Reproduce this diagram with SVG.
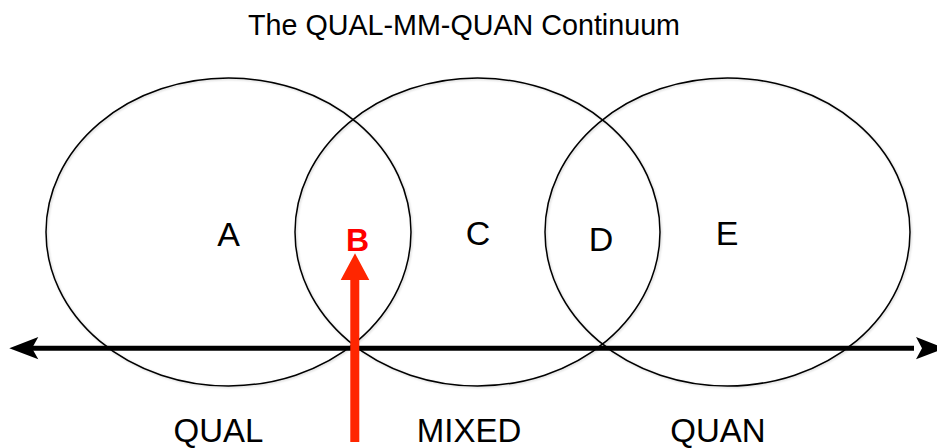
<svg xmlns="http://www.w3.org/2000/svg" width="937" height="448" viewBox="0 0 937 448">
  <style>
    .ell { fill: none; stroke: #000; stroke-width: 1.5; filter: url(#sh); }
    .lbl { font-family: "Liberation Sans", Arial, Helvetica, sans-serif; font-size: 34px; fill: #000; text-anchor: middle; }
    .axl { font-family: "Liberation Sans", Arial, Helvetica, sans-serif; font-size: 33px; fill: #000; text-anchor: middle; }
    .title { font-family: "Liberation Sans", Arial, Helvetica, sans-serif; font-size: 28.7px; fill: #000; text-anchor: middle; }
  </style>
  <defs>
    <filter id="sh" x="-10%" y="-10%" width="120%" height="120%">
      <feDropShadow dx="1" dy="1" stdDeviation="1" flood-color="#000" flood-opacity="0.18"/>
    </filter>
  </defs>
  <rect width="937" height="448" fill="#fff"/>
  <text class="title" x="464" y="35">The QUAL-MM-QUAN Continuum</text>

  <g id="circle-qual">
    <ellipse class="ell" cx="228.5" cy="232" rx="182.5" ry="154"/>
    <text class="lbl" x="228.5" y="246">A</text>
  </g>
  <g id="circle-mixed">
    <ellipse class="ell" cx="477.5" cy="232" rx="182.5" ry="154"/>
    <text class="lbl" x="478" y="245">C</text>
  </g>
  <g id="circle-quan">
    <ellipse class="ell" cx="727.5" cy="232" rx="182.5" ry="154"/>
    <text class="lbl" x="727" y="245">E</text>
  </g>
  <g id="overlap-b">
    <text x="357.5" y="251" font-family="Liberation Sans, Arial, sans-serif" font-size="32" font-weight="bold" fill="#FF0000" text-anchor="middle">B</text>
  </g>
  <g id="overlap-d">
    <text class="lbl" x="601" y="251">D</text>
  </g>

  <g id="connectors">
    <line x1="32" y1="348.3" x2="914" y2="348.3" stroke="#000" stroke-width="5"/>
    <polygon points="9.3,348.3 38.3,337 32,348.3 38.3,359.3" fill="#000"/>
    <polygon points="945,348.3 916,337 922,348.3 916,359.3" fill="#000"/>
    <polygon points="350.3,442 350.3,280 340.7,280 355,253.3 369.3,280 359.3,280 359.3,442" fill="#FF2600"/>
  </g>

  <g id="axis-labels">
    <text class="axl" x="218.5" y="442">QUAL</text>
    <text class="axl" x="469" y="442">MIXED</text>
    <text class="axl" x="718" y="442">QUAN</text>
  </g>
</svg>
